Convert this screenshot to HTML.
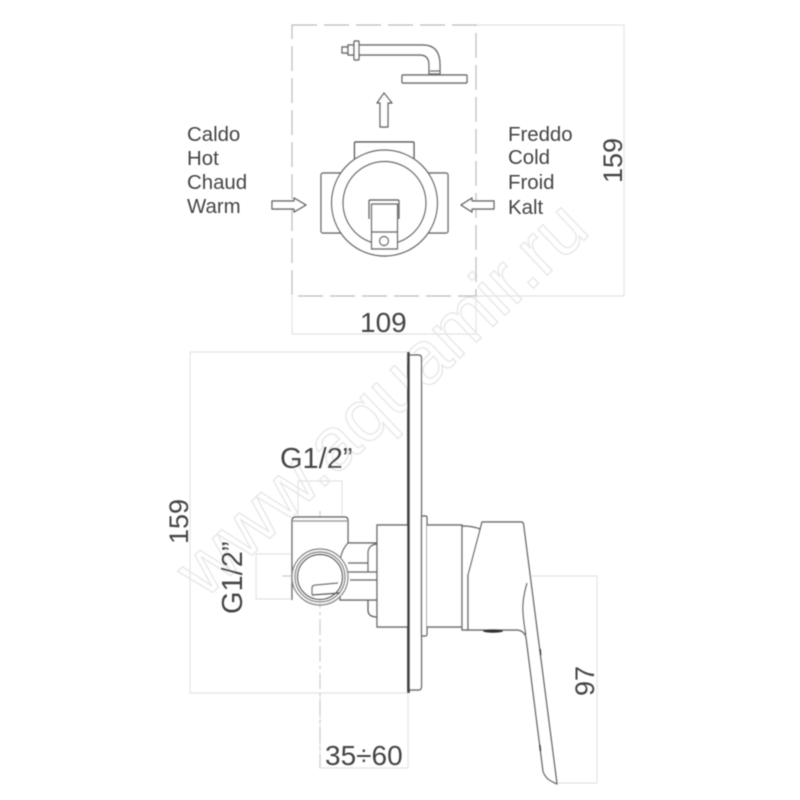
<!DOCTYPE html>
<html><head><meta charset="utf-8"><style>html,body{margin:0;padding:0;background:#fff}svg{display:block}</style></head>
<body>
<svg width="800" height="800" viewBox="0 0 800 800" xmlns="http://www.w3.org/2000/svg">
<defs><filter id="b" x="-5%" y="-5%" width="110%" height="110%"><feGaussianBlur stdDeviation="0.5"/></filter></defs>
<rect width="800" height="800" fill="#fff"/>
<g filter="url(#b)">
<text transform="translate(205,600) rotate(-43.5)" font-family="Liberation Sans, sans-serif" font-size="75" fill="#fff" stroke="#e6e6e6" stroke-width="1.3">www.aquamir.ru</text>
<g fill="none" stroke="#e4e4e4" stroke-width="1.2">
<path d="M476 25H624V296H476M292 296V334H476V296"/>
<path d="M408 352H190V693H408"/>
<path d="M320 693V768H408V693"/>
<path d="M298 517V481H342V517M292 554H256V599H292"/>
<path d="M520 576H597V783H557"/>
</g>
<path d="M320 511V768M282 576H525" fill="none" stroke="#cdcdcd" stroke-width="1.2" stroke-dasharray="16 4 3 4"/>
<rect x="292" y="25" width="184" height="271" fill="none" stroke="#bcbcbc" stroke-width="1.2" stroke-dasharray="25 7"/>

<g fill="#fff" stroke="#6a6a6a" stroke-width="1.4" stroke-linejoin="round">
<!-- shower -->
<rect x="342" y="47" width="6" height="6"/>
<rect x="348" y="45" width="6" height="10"/>
<path d="M358 45H423Q440 45 440 65V74H429V65Q429 55 420 55H358Z"/>
<rect x="354" y="41" width="5" height="19" rx="1"/>
<rect x="402" y="75" width="65" height="8" rx="1"/>
<path d="M430 71H440" fill="none"/>
<path d="M380 127V103H377L384 93L392 103H388V127Z"/>
<!-- top view -->
<path d="M272 201H294V198L306 205L294 212V209H272Z"/>
<path d="M494 201H472V198L461 205L472 212V209H494Z"/>
<path d="M354.500 170V143Q354.500 142 356 142H412Q414 142 414 143V170" stroke="#555"/>
<rect x="321" y="173" width="127" height="60" rx="2"/>
<circle cx="384.500" cy="203" r="53"/>
<circle cx="384.500" cy="203" r="41.500"/>
<path d="M369 219V201Q369 200 370 200H398Q399 200 399 201V219" fill="none" stroke="#555"/>
<rect x="371.500" y="204" width="26" height="45"/>
<path d="M371.500 232H397.500" fill="none"/>
<circle cx="384" cy="241" r="4.500"/>
<!-- side view -->
<path d="M292 600V521Q292 517 296 517H345Q348 517 348 521V590" />
<path d="M293 521H347" fill="none" stroke="#999"/>
<path d="M348 543H377V600H340V560Q342 549 348 543Z"/>
<path d="M348 563H368M348 572H377M350 580H377" fill="none"/>
<path d="M377 544Q368 545 368 553V572M368 600V610Q368 617 377 617" fill="none"/>
<circle cx="320" cy="577" r="28" stroke="#888"/>
<circle cx="320" cy="577" r="25" fill="none" stroke="#888"/>
<circle cx="320" cy="577" r="22.500" stroke="#666"/>
<path d="M312 595V588Q312 585 316 585L338 583" fill="none" stroke="#777"/>
<path d="M312 595L340 593" fill="none" stroke="#555" stroke-width="1.600"/>
<rect x="377" y="525" width="31" height="102"/>
<path d="M408 355H418Q421.500 355 421.500 358V687Q421.500 690 418 690H408Z"/>
<path d="M408.500 352V693" fill="none" stroke="#444" stroke-width="2.800"/>
<path d="M421.500 516H425Q427 516 427 518V634Q427 636 425 636H421.500Z"/>
<path d="M427 525H462V627H427" />
<path d="M462 526Q472 526 480 529V575H468V630H462Z"/>
<path d="M482 522H521Q523 522 523.500 524L557 784Q552 782 548 779Q544 775 543 771L526 637Q524 631 518 630H468V575Z"/>
<path d="M527 583Q522 600 523 613Q524 626 526 635" fill="none"/>
</g>
<ellipse cx="493" cy="631" rx="10" ry="1.800" fill="#333"/>
<path d="M540 649L540.600 655M540 745L540.600 751" stroke="#333" stroke-width="1.600"/>

<g font-family="Liberation Sans, sans-serif" fill="#444" font-size="20.400">
<text x="187" y="141">Caldo</text>
<text x="187" y="165">Hot</text>
<text x="187" y="189">Chaud</text>
<text x="187" y="213">Warm</text>
<text x="508" y="141">Freddo</text>
<text x="508" y="164">Cold</text>
<text x="508" y="189">Froid</text>
<text x="508" y="214">Kalt</text>
</g>
<g font-family="Liberation Sans, sans-serif" fill="#444" font-size="27">
<text x="360" y="332" font-size="28">109</text>
<text transform="translate(622,183) rotate(-90)">159</text>
<text transform="translate(188,544) rotate(-90)">159</text>
<text transform="translate(594,696) rotate(-90)">97</text>
<text x="325" y="765" font-size="28">35÷60</text>
<text x="280" y="468" font-size="29">G1/2”</text>
<text transform="translate(242,614) rotate(-90)" font-size="29">G1/2”</text>
</g>
</g>
</svg>
</body></html>
